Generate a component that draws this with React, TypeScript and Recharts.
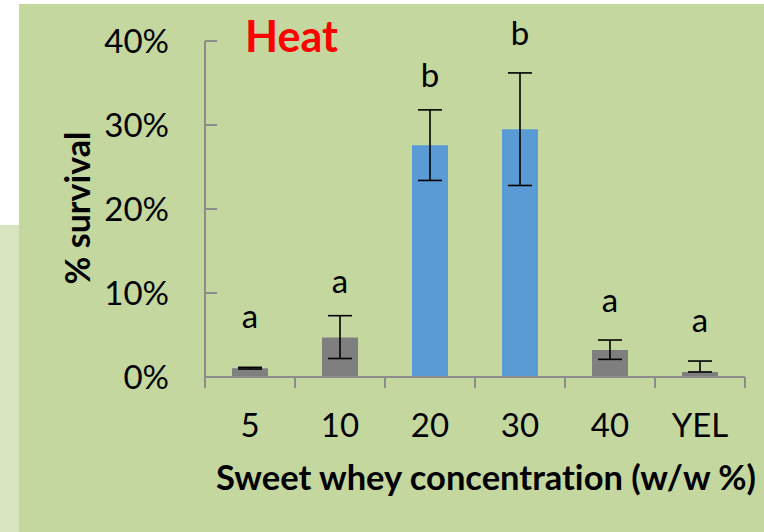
import { Bar, Cell, ComposedChart, ErrorBar, Label, Scatter, XAxis, YAxis } from "recharts";

const categories = ["5", "10", "20", "30", "40", "YEL"];
const survival = [1.05, 4.7, 27.6, 29.5, 3.2, 0.6];
const errLow = [0.1, 2.5, 4.2, 6.7, 1.1, 0];
const errHigh = [0.1, 2.6, 4.2, 6.7, 1.2, 1.3];
const letters = ["a", "a", "b", "b", "a", "a"];
const letterAt = [5.8, 10.0, 34.5, 39.5, 7.7, 5.4];
const yTicks = [0, 10, 20, 30, 40];
const highlighted = ["20", "30"];

const FONT = "Lato, 'Noto Sans', sans-serif";
const GRAY_AXIS = "#8c8c8c";
const PLOT_W = 540;
const BAND_HALF = PLOT_W / categories.length / 2;

const data = categories.map((cat, i) => ({
  cat,
  survival: survival[i],
  err: [errLow[i], errHigh[i]],
  letter: letters[i],
  letterAt: letterAt[i],
}));

function XTick(props: any) {
  const { x, y, payload, index } = props;
  const last = index === categories.length - 1;
  return (
    <g>
      <line x1={x - BAND_HALF} x2={x - BAND_HALF} y1={y} y2={y + 11} stroke={GRAY_AXIS} strokeWidth={2} />
      {last && (
        <line x1={x + BAND_HALF} x2={x + BAND_HALF} y1={y} y2={y + 11} stroke={GRAY_AXIS} strokeWidth={2} />
      )}
      <text x={x} y={y + 60} textAnchor="middle" fontSize={33} fill="#000" fontFamily={FONT}>
        {payload.value}
      </text>
    </g>
  );
}

function Letter(props: any) {
  const { cx, cy, payload } = props;
  return (
    <text x={cx} y={cy} textAnchor="middle" fontSize={33} fill="#000" fontFamily={FONT}>
      {payload.letter}
    </text>
  );
}

export default function App() {
  return (
    <div style={{ position: "absolute", left: 0, top: 0, width: 764, height: 532, background: "#fff", overflow: "hidden" }}>
      <div style={{ position: "absolute", left: 19, top: 4, right: 0, bottom: 0, background: "#c4d79f" }} />
      <div style={{ position: "absolute", left: 0, top: 225, width: 19, bottom: 0, background: "#d8e4bf" }} />
      <div style={{ position: "absolute", left: 0, top: 0 }}>
        <ComposedChart
          width={764}
          height={532}
          data={data}
          margin={{ top: 41, right: 19, bottom: 55, left: 85 }}
          style={{ fontFamily: FONT, fontVariantLigatures: "none" }}
        >
          <XAxis
            dataKey="cat"
            height={100}
            interval={0}
            tickLine={false}
            tickSize={0}
            tickMargin={0}
            axisLine={{ stroke: GRAY_AXIS, strokeWidth: 2 }}
            tick={<XTick />}
          >
            <Label
              content={(p: any) => (
                <text
                  x={p.viewBox.x + p.viewBox.width / 2 + 11}
                  y={p.viewBox.y + 113}
                  textAnchor="middle"
                  fontSize={34.5}
                  fontWeight={700}
                  fill="#000"
                  fontFamily={FONT}
                >
                  Sweet whey concentration (w/w %)
                </text>
              )}
            />
          </XAxis>
          <YAxis
            width={120}
            domain={[0, 40]}
            ticks={yTicks}
            tickFormatter={(v) => `${v}%`}
            tickSize={-12}
            tickMargin={48}
            tickLine={{ stroke: GRAY_AXIS, strokeWidth: 2 }}
            axisLine={{ stroke: GRAY_AXIS, strokeWidth: 2 }}
            tick={{ fill: "#000", fontSize: 33, fontFamily: FONT }}
          >
            <Label
              content={(p: any) => (
                <text
                  transform={`translate(${p.viewBox.x - 9}, ${p.viewBox.y + p.viewBox.height / 2 - 1}) rotate(-90)`}
                  textAnchor="middle"
                  dominantBaseline="central"
                  fontSize={34}
                  fontWeight={700}
                  fill="#000"
                  fontFamily={FONT}
                >
                  % survival
                </text>
              )}
            />
          </YAxis>
          <Bar dataKey="survival" barSize={36} isAnimationActive={false}>
            {data.map((d) => (
              <Cell key={d.cat} fill={highlighted.includes(d.cat) ? "#5b9bd5" : "#7f7f7f"} />
            ))}
            <ErrorBar dataKey="err" direction="y" width={12} stroke="#000" strokeWidth={1.6} />
          </Bar>
          <Scatter dataKey="letterAt" shape={<Letter />} isAnimationActive={false} />
        </ComposedChart>
      </div>
      <svg style={{ position: "absolute", left: 0, top: 0 }} width={764} height={532} pointerEvents="none">
        <text x={245} y={52} fontSize={43} fontWeight={700} fill="#ff0000" fontFamily={FONT}>
          Heat
        </text>
      </svg>
    </div>
  );
}
